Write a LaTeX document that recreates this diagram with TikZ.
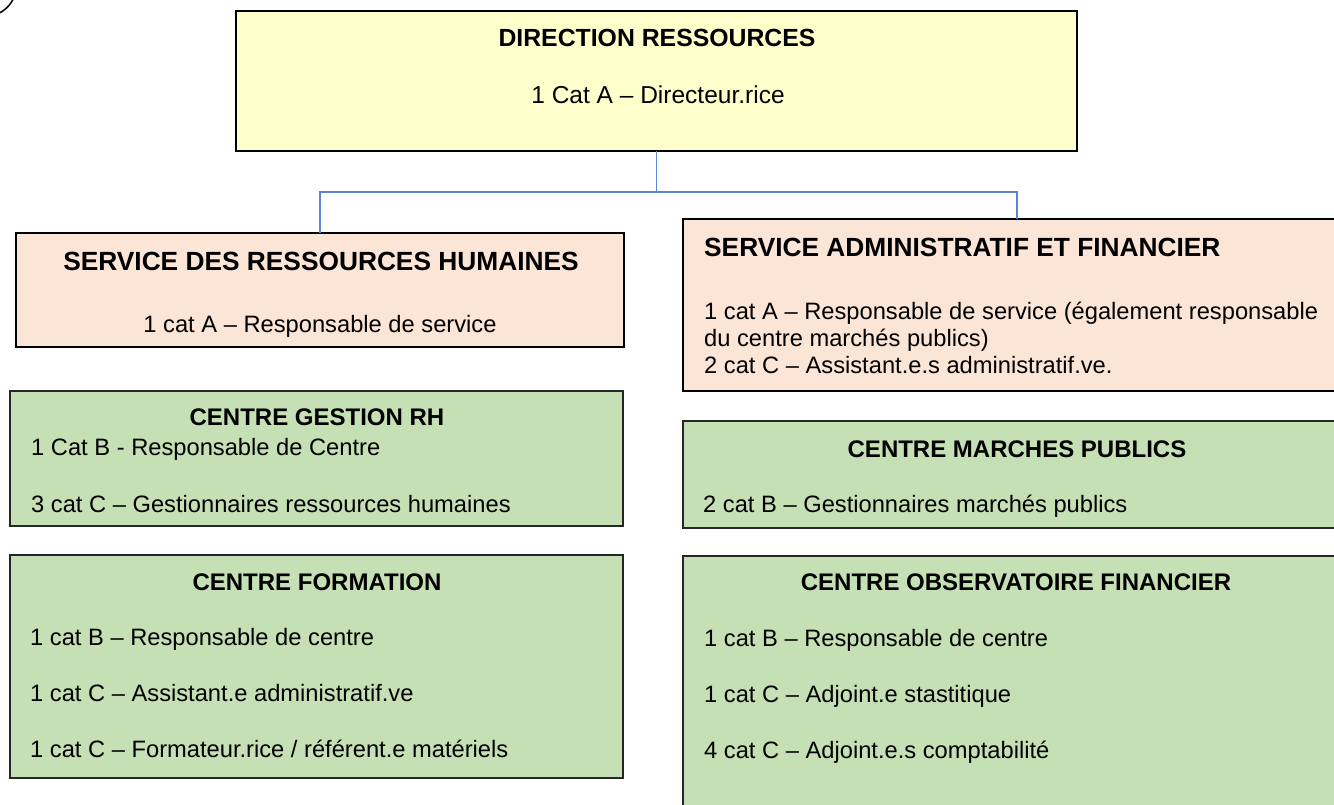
\documentclass[tikz,border=0pt]{standalone}
\usepackage{fontspec}
\setmainfont{Liberation Sans}
\definecolor{dyellow}{HTML}{FFFFCC}
\definecolor{speach}{HTML}{FBE5D6}
\definecolor{cgreen}{HTML}{C5E0B4}
\definecolor{conncol}{HTML}{5A86CF}
\tikzset{
  box/.style={draw=black, line width=2pt, inner sep=0pt, outer sep=0pt},
  dirbox/.style={box, fill=dyellow},
  servbox/.style={box, fill=speach},
  centbox/.style={draw=black!85, line width=1.5pt, fill=cgreen, inner sep=0pt, outer sep=0pt},
  conn/.style={draw=conncol, line width=1.4pt},
  txt/.style={inner sep=0pt, font=\fontsize{23.7}{28}\selectfont},
  ttl/.style={inner sep=0pt, font=\fontsize{24}{28}\selectfont\bfseries},
  bigttl/.style={inner sep=0pt, font=\fontsize{26.3}{30}\selectfont\bfseries},
  dirtxt/.style={inner sep=0pt, font=\fontsize{24.5}{28}\selectfont},
  dirttl/.style={inner sep=0pt, font=\fontsize{24.8}{28}\selectfont\bfseries},
}
\begin{document}
\begin{tikzpicture}[x=1pt,y=-1pt]
\useasboundingbox (0,0) rectangle (1334,804);
\clip (0,0) rectangle (1334,804);
% corner mark
\draw[line width=1.5pt] (-15,-15) circle[radius=31.5];
% boxes
\node[dirbox, minimum width=841pt, minimum height=140pt] (dir) at (656.5,81) {};
\node[servbox, minimum width=608pt, minimum height=114.5pt] (srh) at (320,290) {};
\node[servbox, minimum width=668pt, minimum height=172pt] (saf) at (1017,305) {};
\node[centbox, minimum width=613pt, minimum height=135pt] (cgrh) at (316.5,458.5) {};
\node[centbox, minimum width=668pt, minimum height=107pt] (cmp) at (1017,474.5) {};
\node[centbox, minimum width=613pt, minimum height=223pt] (cf) at (316.5,666.5) {};
\node[centbox, minimum width=668pt, minimum height=274pt] (cof) at (1017,693) {};
% connectors
\draw[conn] (dir.south) -- ++(0,41) -| (srh.north);
\draw[conn] (dir.south) -- ++(0,41) -| (saf.north);
% texts: direction
\node[dirttl, anchor=base] (dirt) at (657,46) {DIRECTION RESSOURCES};
\node[dirtxt, anchor=base] (dirl) at (658,103) {1 Cat A – Directeur.rice};
% SRH
\node[bigttl, anchor=base] (srht) at (321,270) {SERVICE DES RESSOURCES HUMAINES};
\node[txt, anchor=base] (srhl) at (320,332) {1 cat A – Responsable de service};
% SAF
\node[bigttl, anchor=base west] (saft) at (704,256) {SERVICE ADMINISTRATIF ET FINANCIER};
\node[txt, anchor=base west] (safl1) at (704,319) {1 cat A – Responsable de service (également responsable};
\node[txt, anchor=base west] (safl2) at (704,346) {du centre marchés publics)};
\node[txt, anchor=base west] (safl3) at (704,373) {2 cat C – Assistant.e.s administratif.ve.};
% CGRH
\node[ttl, anchor=base] (cgrht) at (317,425) {CENTRE GESTION RH};
\node[txt, anchor=base west] (cgrhl1) at (31,455) {1 Cat B - Responsable de Centre};
\node[txt, anchor=base west] (cgrhl2) at (31,512) {3 cat C – Gestionnaires ressources humaines};
% CMP
\node[ttl, anchor=base] (cmpt) at (1017,457) {CENTRE MARCHES PUBLICS};
\node[txt, anchor=base west] (cmpl) at (703,512) {2 cat B – Gestionnaires marchés publics};
% CF
\node[ttl, anchor=base] (cft) at (317,590) {CENTRE FORMATION};
\node[txt, anchor=base west] (cfl1) at (30,645) {1 cat B – Responsable de centre};
\node[txt, anchor=base west] (cfl2) at (30,701) {1 cat C – Assistant.e administratif.ve};
\node[txt, anchor=base west] (cfl3) at (30,757) {1 cat C – Formateur.rice / référent.e matériels};
% COF
\node[ttl, anchor=base] (coft) at (1016,590) {CENTRE OBSERVATOIRE FINANCIER};
\node[txt, anchor=base west] (cofl1) at (704,646) {1 cat B – Responsable de centre};
\node[txt, anchor=base west] (cofl2) at (704,702) {1 cat C – Adjoint.e stastitique};
\node[txt, anchor=base west] (cofl3) at (704,758) {4 cat C – Adjoint.e.s comptabilité};
\end{tikzpicture}
\end{document}
